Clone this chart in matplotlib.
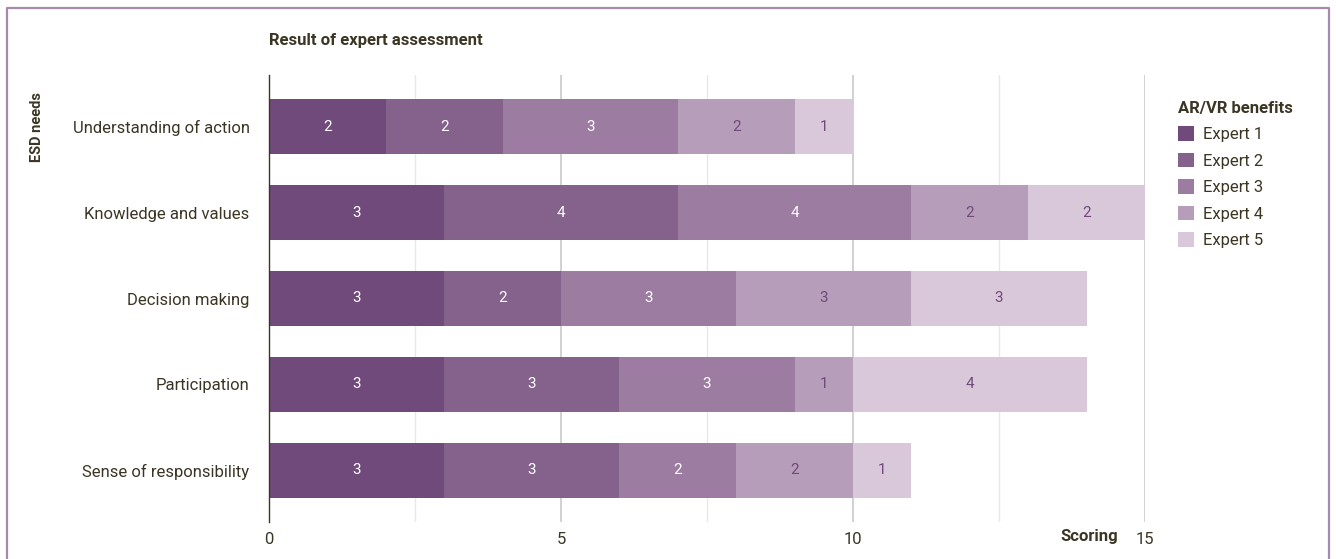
import matplotlib
matplotlib.use("Agg")
from matplotlib import pyplot as plt
from matplotlib.lines import Line2D
from matplotlib.patches import Patch
from matplotlib.ticker import MultipleLocator
import numpy as np

categories = [
    "Understanding of action",
    "Knowledge and values",
    "Decision making",
    "Participation",
    "Sense of responsibility",
]
experts = ["Expert 1", "Expert 2", "Expert 3", "Expert 4", "Expert 5"]

# scores per expert, one value per category (same order as categories)
expert1 = [2, 3, 3, 3, 3]
expert2 = [2, 4, 2, 3, 3]
expert3 = [3, 4, 3, 3, 2]
expert4 = [2, 2, 3, 1, 2]
expert5 = [1, 2, 3, 4, 1]

x_ticks = [0, 5, 10, 15]

colors = ["#6f4a7b", "#85628c", "#9d7ca1", "#b69db9", "#d9c8da"]
label_colors = ["white", "white", "white", "#6f4a7b", "#6f4a7b"]
text_dark = "#3b3524"
frame_col = "#a58aab"

plt.rcParams["font.family"] = ["Roboto", "DejaVu Sans"]

fig = plt.figure(figsize=(13.36, 5.59), dpi=100)
ax = fig.add_axes([269 / 1336, 1 - 522 / 559, 876 / 1336, 447 / 559])

series = [expert1, expert2, expert3, expert4, expert5]
y = np.arange(len(categories))
left = np.zeros(len(categories))
for vals, name, col, tcol in zip(series, experts, colors, label_colors):
    vals = np.array(vals, dtype=float)
    bars = ax.barh(y, vals, left=left, height=0.63, color=col, label=name, zorder=3)
    ax.bar_label(bars, labels=[str(int(v)) for v in vals], label_type="center",
                 color=tcol, fontsize=11)
    left += vals

ax.set_xlim(0, 15)
ax.set_ylim(len(categories) - 0.4, -0.6)
ax.set_yticks(y)
ax.set_yticklabels(categories, fontsize=12, color=text_dark)
ax.set_xticks(x_ticks)
ax.set_xticklabels([str(t) for t in x_ticks], fontsize=12, color=text_dark)
ax.xaxis.set_minor_locator(MultipleLocator(2.5))
ax.tick_params(axis="both", which="both", length=0)
ax.tick_params(axis="x", pad=7)
ax.tick_params(axis="y", pad=14)

ax.grid(axis="x", which="major", color="#c9c9c9", lw=1.2, zorder=0)
ax.grid(axis="x", which="minor", color="#e8e8e8", lw=1.0, zorder=0)
for s in ["top", "right", "bottom"]:
    ax.spines[s].set_visible(False)
ax.spines["left"].set_color(text_dark)
ax.spines["left"].set_linewidth(1.0)
ax.spines["left"].set_zorder(4)

fig.text(269 / 1336, 1 - 41 / 559, "Result of expert assessment", fontsize=12,
         fontweight="bold", color=text_dark, va="center", ha="left")
fig.text(37 / 1336, 1 - 127 / 559, "ESD needs", fontsize=10.5, fontweight="bold",
         color=text_dark, rotation=90, va="center", ha="center")
fig.text(1118 / 1336, 1 - 537 / 559, "Scoring", fontsize=12, fontweight="bold",
         color=text_dark, va="center", ha="right")

handles = [Patch(facecolor=c, edgecolor="none") for c in colors]
leg = fig.legend(handles, experts, title="AR/VR benefits", loc="upper left",
                 bbox_to_anchor=(1166 / 1336, 1 - 89 / 559), frameon=False,
                 fontsize=12, title_fontproperties={"weight": "bold", "size": 12},
                 handlelength=1.0, handleheight=1.0, handletextpad=0.5,
                 labelspacing=0.62, alignment="left", borderpad=0.2)
for t in leg.get_texts():
    t.set_color(text_dark)
leg.get_title().set_color(text_dark)

# open frame around the chart (no bottom edge)
fx = [7 / 1336, 7 / 1336, 1329 / 1336, 1329 / 1336]
fy = [0, 1 - 8 / 559, 1 - 8 / 559, 0]
fig.add_artist(Line2D(fx, fy, transform=fig.transFigure, color=frame_col, lw=1.6))

fig.savefig("out.png", dpi=100, facecolor="white")
